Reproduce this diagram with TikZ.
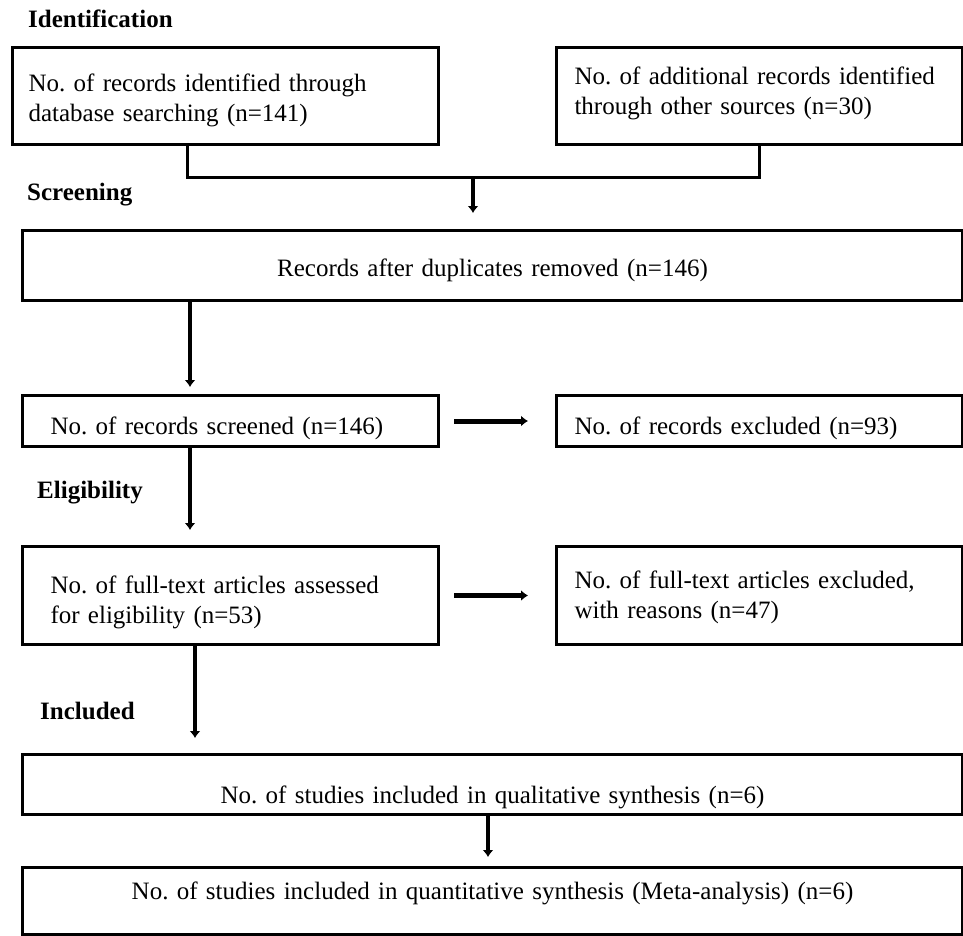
\documentclass[tikz,border=0pt]{standalone}
\usepackage{fontspec}
\setmainfont{Liberation Serif}
\usetikzlibrary{arrows.meta}

\tikzset{
    stage/.style={draw, line width=3pt, anchor=north west, inner ysep=0pt,
        font=\fontsize{25}{30}\selectfont\frenchspacing},
    heading/.style={anchor=base west, inner sep=0pt,
        font=\fontsize{25}{30}\selectfont\bfseries},
    flow/.style={line width=4pt, >={Latex[length=7pt,width=11pt]}}
}

\begin{document}
\begin{tikzpicture}[x=1pt,y=-1pt]
        \useasboundingbox (0,0) rectangle (963,935);

        % Phase headings, named after what they say
        \foreach \name/\x/\y in {Identification/28/27,Screening/27/200,Eligibility/37/498,Included/40/719}
        {
            \node[heading] (\name) at (\x,\y) {\name};
        }

        % Two sources at the top
        \node[stage, align=left, minimum height=97pt, text width=394pt, inner xsep=16pt, text height=26pt]
            (DatabaseRecords) at (11,46) {No. of records identified through\\database searching (n=141)};
        \node[stage, align=left, minimum height=97pt, text width=370pt, inner xsep=18pt, text height=12pt]
            (OtherRecords) at (555,46) {No. of additional records identified\\through other sources (n=30)};

        \node[stage, align=center, minimum height=70pt, text width=900pt, inner xsep=20pt, text height=27pt, text depth=5pt]
            (Deduplicated) at (21,229) {Records after duplicates removed (n=146)};

        % Screening and eligibility, excluded ones on the right
        \node[stage, align=left, minimum height=51pt, text width=360pt, inner xsep=28pt, text height=32pt, text depth=5pt]
            (Screened) at (21,394) {No. of records screened (n=146)};
        \node[stage, align=left, minimum height=51pt, text width=370pt, inner xsep=18pt, text height=32pt, text depth=5pt]
            (Excluded) at (555,394) {No. of records excluded (n=93)};

        \node[stage, align=left, minimum height=98pt, text width=360pt, inner xsep=28pt, text height=31pt]
            (Assessed) at (21,545) {No. of full-text articles assessed\\for eligibility (n=53)};
        \node[stage, align=left, minimum height=98pt, text width=370pt, inner xsep=18pt, text height=21pt]
            (FullTextExcluded) at (555,545) {No. of full-text articles excluded,\\with reasons (n=47)};

        % Included
        \node[stage, align=center, minimum height=60pt, text width=900pt, inner xsep=20pt, text height=43pt, text depth=5pt]
            (Qualitative) at (21,753) {No. of studies included in qualitative synthesis (n=6)};
        \node[stage, align=center, minimum height=67pt, text width=900pt, inner xsep=20pt, text height=2pt, text depth=5pt]
            (Quantitative) at (21,866) {No. of studies included in quantitative synthesis (Meta-analysis) (n=6)};

        % Merge the two sources
        \coordinate (Join) at (473,177);
        \draw[line width=3pt] ([xshift=-38pt]DatabaseRecords.south) |- (Join) -| (OtherRecords.south);
        \draw[flow, ->, shorten >=16pt] (Join) -- (Join |- Deduplicated.north);

        \foreach \a/\b/\dx/\gap in {Deduplicated/Screened/169pt/7pt,Screened/Assessed/169pt/15pt,Assessed/Qualitative/174pt/15pt,Qualitative/Quantitative/467pt/9pt}
        {
            \draw[flow, ->, shorten >=\gap] ([xshift=\dx]\a.south west) -- ([xshift=\dx]\b.north west);
        }

        \foreach \a/\b in {Screened/Excluded,Assessed/FullTextExcluded}
        {
            \draw[flow, line width=5pt, ->, shorten <=14pt, shorten >=27pt] (\a) -- (\b);
        }
\end{tikzpicture}
\end{document}
